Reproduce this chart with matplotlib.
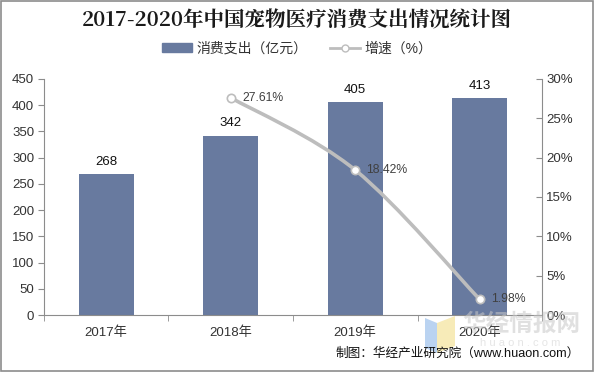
import numpy as np
import matplotlib
matplotlib.use("Agg")
import matplotlib.pyplot as plt
from matplotlib.path import Path
from matplotlib.patches import PathPatch, Rectangle, Polygon
from matplotlib.lines import Line2D

plt.rcParams['font.family'] = ['Liberation Sans', 'Noto Sans CJK SC', 'DejaVu Sans']

# data
years = ["2017年", "2018年", "2019年", "2020年"]
spend = [268, 342, 405, 413]
growth_years = [1, 2, 3]          # index of the years that have a growth rate
growth = [27.61, 18.42, 1.98]
left_ticks = [0, 50, 100, 150, 200, 250, 300, 350, 400, 450]
right_ticks = [0, 5, 10, 15, 20, 25, 30]

bar_color = "#687A9F"
line_color = "#BDBDBD"
axis_color = "#8C8C8C"
text_color = "#333333"

fig = plt.figure(figsize=(5.94, 3.72), dpi=100)
fig.patches.append(Rectangle((0.002, 0.002), 0.996, 0.994, transform=fig.transFigure,
                             fill=False, edgecolor="#8C8C8C", linewidth=1.2))

ax = fig.add_axes([0.074, 0.153, 0.8385, 0.635])
x = np.arange(len(years))
ax.bar(x, spend, width=0.44, color=bar_color, zorder=2)
for xi, v in zip(x, spend):
    ax.text(xi, v + 12, str(v), ha="center", va="bottom", fontsize=9.5, color="#111111")

ax.set_xlim(-0.5, len(years) - 0.5)
ax.set_ylim(0, 450)
ax.set_yticks(left_ticks)
ax.set_xticks(x)
ax.set_xticklabels(years)
ax.set_xticks(np.arange(-0.5, len(years)), minor=True)
ax.tick_params(axis="x", which="major", length=0, pad=8, labelsize=9.5, labelcolor=text_color)
ax.tick_params(axis="x", which="minor", length=4, color=axis_color, direction="out")
ax.tick_params(axis="y", length=4, color=axis_color, labelsize=9.5, labelcolor=text_color, pad=3)
for s in ["top", "right"]:
    ax.spines[s].set_visible(False)
for s in ["left", "bottom"]:
    ax.spines[s].set_color(axis_color)
    ax.spines[s].set_linewidth(0.8)

ax2 = ax.twinx()
ax2.set_ylim(0, 30)
ax2.set_yticks(right_ticks)
ax2.set_yticklabels([f"{t}%" for t in right_ticks])
ax2.tick_params(axis="y", length=4, direction="in", color=axis_color,
                labelsize=9.5, labelcolor=text_color, pad=3)
for s in ["top", "left", "bottom"]:
    ax2.spines[s].set_visible(False)
ax2.spines["right"].set_color(axis_color)
ax2.spines["right"].set_linewidth(0.8)

# smoothed line (Catmull-Rom -> cubic Bezier through the data points)
pts = np.column_stack([growth_years, growth]).astype(float)
ext = np.vstack([pts[0], pts, pts[-1]])
verts = [tuple(pts[0])]
codes = [Path.MOVETO]
for i in range(1, len(ext) - 2):
    p0, p1, p2, p3 = ext[i - 1], ext[i], ext[i + 1], ext[i + 2]
    c1 = p1 + (p2 - p0) / 6
    c2 = p2 - (p3 - p1) / 6
    verts += [tuple(c1), tuple(c2), tuple(p2)]
    codes += [Path.CURVE4] * 3
ax2.add_patch(PathPatch(Path(verts, codes), fill=False, edgecolor=line_color,
                        linewidth=2.6, zorder=3))
ax2.plot(growth_years, growth, linestyle="none", marker="o", markersize=6,
         markerfacecolor="white", markeredgecolor=line_color, markeredgewidth=1.2, zorder=4)
for xi, g in zip(growth_years, growth):
    ax2.text(xi + 0.09, g, f"{g:.2f}%", ha="left", va="center", fontsize=8.8, color="#404040")

fig.text(0.5, 0.945, "2017-2020年中国宠物医疗消费支出情况统计图", ha="center", va="center",
         fontsize=14.8, fontweight="bold", color="#1a1a1a",
         family=["Noto Serif CJK SC", "Noto Sans CJK SC", "DejaVu Sans"])

handles = [Rectangle((0, 0), 1, 1, color=bar_color),
           Line2D([], [], color=line_color, linewidth=2, marker="o", markersize=5,
                  markerfacecolor="white", markeredgecolor=line_color)]
fig.legend(handles, ["消费支出（亿元）", "增速（%）"], loc="center", bbox_to_anchor=(0.5, 0.87),
           ncol=2, frameon=False, fontsize=10, handlelength=2.2, handleheight=0.6,
           columnspacing=1.6, handletextpad=0.3, labelcolor=text_color)

# watermark logo and text
W, H = 594.0, 372.0
blue = [(425, 318), (437, 323), (437, 353), (425, 348)]
yellow = [(437, 323), (455, 316), (455, 346), (437, 353)]
for poly, c in [(blue, "#A9C8EE"), (yellow, "#F6E6A6")]:
    fig.patches.append(Polygon([(px / W, 1 - py / H) for px, py in poly], closed=True,
                               transform=fig.transFigure, facecolor=c, edgecolor="none",
                               alpha=0.8, zorder=0))
fig.text(0.877, 0.129, "华经情报网", ha="center", va="center", fontsize=17, fontweight="bold",
         color="#C8C8C8", alpha=0.55, zorder=0)
fig.text(0.875, 0.078, "h u a o n . c o m", ha="center", va="center", fontsize=8,
         color="#D5D5D5", alpha=0.6, zorder=0)

fig.text(0.976, 0.05, "制图：华经产业研究院（www.huaon.com）", ha="right", va="center",
         fontsize=9.1, color="#111111")

fig.savefig("out.png", dpi=100)
